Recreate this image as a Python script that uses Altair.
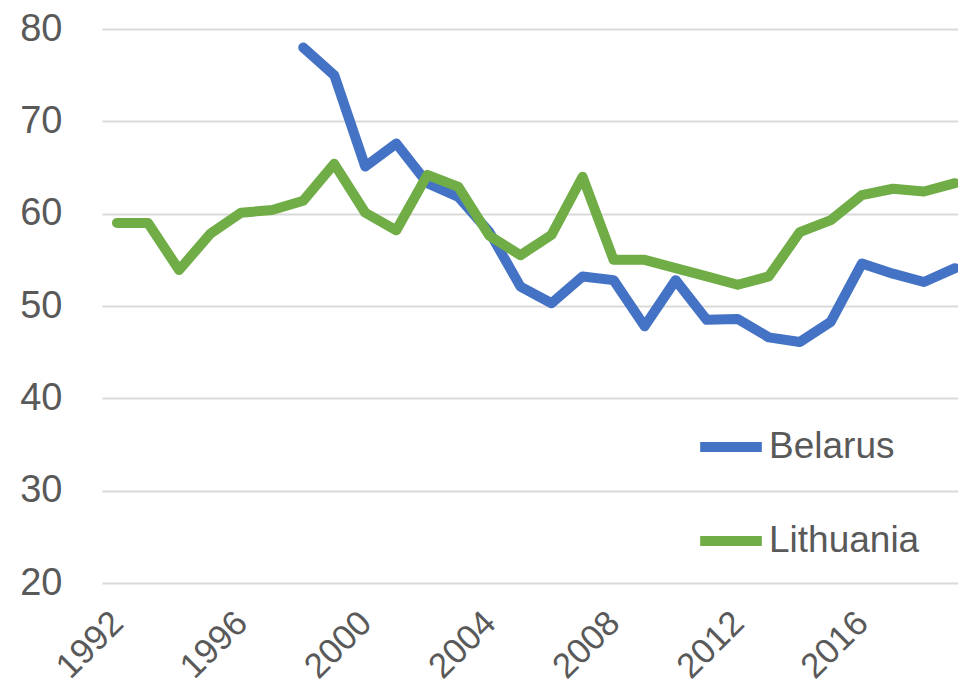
import altair as alt
import pandas as pd

years = list(range(1992, 2020))
lithuania = [59.0, 59.0, 53.9, 57.8, 60.1, 60.4, 61.4, 65.4, 60.1, 58.2, 64.2, 62.9,
             57.6, 55.5, 57.7, 64.0, 55.0, 55.0, 54.1, 53.2, 52.3, 53.2, 58.0, 59.3,
             62.0, 62.7, 62.4, 63.3]
belarus_years = list(range(1998, 2020))
belarus = [78.0, 75.0, 65.1, 67.6, 63.3, 61.8, 58.0, 52.1, 50.3, 53.2, 52.8, 47.8,
           52.8, 48.5, 48.6, 46.6, 46.1, 48.3, 54.6, 53.5, 52.6, 54.1]
series_names = ["Belarus", "Lithuania"]
series_colors = ["#4472C4", "#70AD47"]
x_tick_labels = [1992, 1996, 2000, 2004, 2008, 2012, 2016]
y_ticks = [20, 30, 40, 50, 60, 70, 80]

rows = [{"year": y, "value": v, "country": "Belarus"} for y, v in zip(belarus_years, belarus)]
rows += [{"year": y, "value": v, "country": "Lithuania"} for y, v in zip(years, lithuania)]
df = pd.DataFrame(rows)

FONT = "Liberation Sans"
TXT = "#595959"

chart = alt.Chart(df).mark_line(strokeWidth=10, strokeCap="round", strokeJoin="round").encode(
    x=alt.X("year:Q",
            scale=alt.Scale(domain=[1991.517, 2019.097], nice=False, zero=False),
            axis=alt.Axis(values=x_tick_labels, format="d", labelAngle=-45, labelAlign="right",
                          labelBaseline="middle", labelPadding=34, grid=False, domain=False,
                          ticks=False, title=None, labelFontSize=35, labelFont=FONT,
                          labelColor=TXT, labelOverlap=False, labelFlush=False)),
    y=alt.Y("value:Q",
            scale=alt.Scale(domain=[20, 80], nice=False, zero=False),
            axis=alt.Axis(values=y_ticks, grid=True, gridColor="#d9d9d9", gridWidth=2,
                          domain=False, ticks=False, title=None, labelPadding=40,
                          labelFontSize=38, labelFont=FONT, labelColor=TXT)),
    color=alt.Color("country:N",
                    scale=alt.Scale(domain=series_names, range=series_colors),
                    legend=alt.Legend(orient="none", legendX=593, legendY=382, title=None,
                                      symbolType="stroke", symbolSize=3800, symbolStrokeWidth=10,
                                      labelFontSize=37, labelFont=FONT, labelColor=TXT,
                                      labelOffset=2, rowPadding=38, padding=0)),
).properties(
    width=856, height=554,
    autosize=alt.AutoSizeParams(type="none"),
    padding={"left": 94, "top": 21, "right": 0, "bottom": 108},
).configure_view(stroke=None)

chart.save("out.html", embed_options={"renderer": "svg", "actions": False})
